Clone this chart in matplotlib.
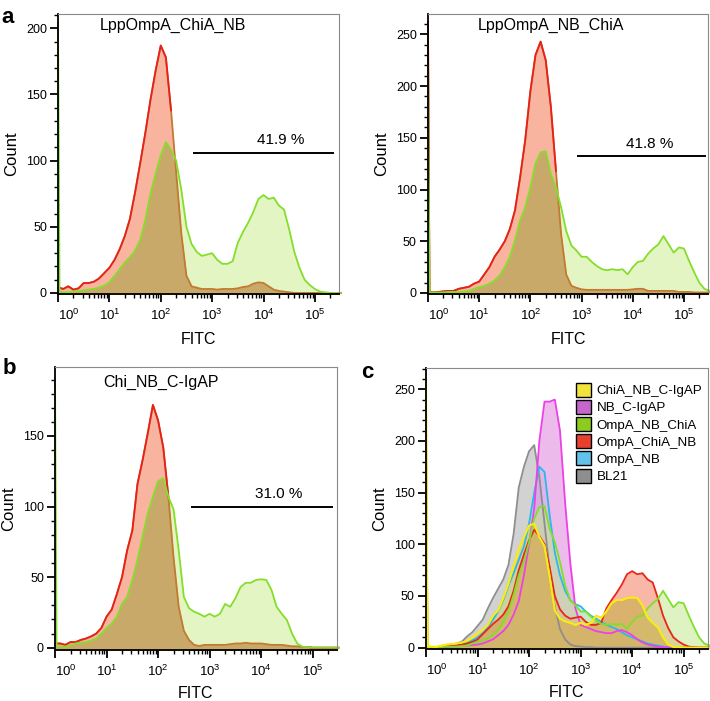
import numpy as np
import matplotlib
matplotlib.use('Agg')
import matplotlib.pyplot as plt
from matplotlib.ticker import FixedLocator, LogLocator, MultipleLocator, NullFormatter
from matplotlib.patches import Patch

plt.rcParams['font.family'] = ['Liberation Sans', 'DejaVu Sans']
plt.rcParams['mathtext.fontset'] = 'custom'
plt.rcParams['mathtext.rm'] = 'Liberation Sans'
plt.rcParams['mathtext.default'] = 'regular'

# posiciones de lectura en decadas (log10 FITC); el primer punto es el pico del borde
DECADAS = [0.0, 0.03] + [round(0.1 * i, 1) for i in range(1, 56)]

# Panel a: LppOmpA_ChiA_NB
A_ROJO = [4, 4,
          3, 5, 2.5, 3.5, 7.5, 7.5, 8.5, 11, 15, 19,
          25, 33, 43, 56, 76, 98, 121, 146, 168, 187,
          178, 138, 91, 45, 13, 5, 4, 3, 3, 3,
          2.5, 3, 3, 3, 3.5, 4.5, 5, 7, 8, 7.5,
          5, 2.5, 1.5, 1, 0.5, 0, 0, 0, 0, 0,
          0, 0, 0, 0, 0]
A_VERDE = [204, 1,
           0.5, 0.5, 1, 1.5, 2, 2.5, 3, 4, 5.5, 8,
           13, 18, 23, 27, 32, 40, 55, 75, 90, 104,
           114, 108, 100, 78, 50, 37, 31, 28, 29, 30,
           25, 22, 22, 24, 38, 46, 53, 61, 71, 74,
           71, 72, 66, 63, 48, 31, 19, 10, 6, 3,
           1, 0.5, 0, 0, 0]

# Panel a (derecha): LppOmpA_NB_ChiA
A2_ROJO = [262, 1,
           0.5, 1, 1.5, 2, 2, 4, 5, 6, 9, 11,
           18, 25, 35, 42, 50, 62, 80, 112, 148, 195,
           230, 243, 225, 180, 118, 57, 18, 7, 5, 3.5,
           3, 3, 3, 3, 3, 3, 3, 3, 3, 3.5,
           4, 4, 2, 2, 2, 2, 2, 2, 1, 1,
           1, 0.5, 0.5, 0.5, 0.5]
A2_VERDE = [220, 0.5,
            0.5, 0.5, 0.5, 1, 1, 1, 1.5, 2, 4, 5.5,
            7, 9, 12, 17, 25, 35, 51, 70, 83, 102,
            125, 136, 137, 115, 102, 83, 60, 46, 41, 35,
            35, 30, 26, 23, 22, 23, 22, 23, 18, 25,
            30, 31, 38, 43, 47, 55, 47, 39, 44, 43,
            31, 20, 10, 4, 2]

# Panel b: Chi_NB_C-IgAP
B_ROJO = [3, 3,
          3, 2, 4, 4, 5.5, 6.5, 8, 10, 14, 22,
          27, 38, 50, 69, 83, 116, 133, 152, 172, 161,
          142, 107, 64, 29, 12, 5.5, 2, 1.2, 2, 2,
          2, 2, 2, 2.5, 3, 3, 3.5, 3, 3, 3,
          2.5, 2, 2, 2, 1.5, 1, 1, 0.5, 0.5, 0,
          0, 0, 0, 0, 0]
B_VERDE = [191, 1,
           1, 0.7, 2, 3, 3.5, 4, 5, 6.5, 10, 14,
           17, 22, 31, 36, 48, 62, 79, 95, 107, 118,
           120, 107, 98, 69, 36, 28, 25.5, 24, 22, 24,
           22, 24, 31, 29, 35, 43, 46, 46, 48, 48.5,
           48, 41, 29, 24, 19.6, 10, 3, 0.7, 0.5, 0,
           0, 0, 0, 0, 0]

# Panel c: superposicion
C_BL21 = [0, 0,
          0, 0.5, 1, 2, 3, 4, 6, 11, 15, 21,
          27, 38, 48, 57, 66, 80, 110, 155, 175, 190,
          196, 165, 120, 75, 40, 18, 8, 3, 1.5, 1,
          0.5, 0.5, 0, 0, 0, 0, 0, 0, 0, 0,
          0, 0, 0, 0, 0, 0, 0, 0, 0, 0,
          0, 0, 0, 0, 0]
C_OMPA_NB = [0, 0,
             0, 0.5, 1, 1.5, 2, 3, 4, 5, 7, 10,
             14, 20, 27, 35, 46, 60, 72, 85, 98, 120,
             150, 175, 170, 128, 92, 70, 55, 46, 42, 40,
             35, 31, 28, 25, 22, 20, 18, 15, 12, 10,
             8, 6, 4, 3, 2, 1, 0.5, 0, 0, 0,
             0, 0, 0, 0, 0]
C_NB_IGAP = [0, 0,
             0, 0, 0.5, 0.5, 1, 1, 1.5, 2, 2.5, 3,
             4, 6, 8, 12, 16, 22, 32, 45, 70, 100,
             135, 200, 238, 238, 240, 210, 140, 82, 38, 22,
             20, 18, 16, 15, 14, 14, 16, 17, 15, 12,
             8, 5, 3, 2, 1, 0.5, 0, 0, 0, 0,
             0, 0, 0, 0, 0]
C_OMPA_CHIA_NB = A_VERDE
C_OMPA_NB_CHIA = A2_VERDE
C_CHIA_IGAP = [264] + B_VERDE[1:]

NOMBRES_C = ['ChiA_NB_C-IgAP', 'NB_C-IgAP', 'OmpA_NB_ChiA', 'OmpA_ChiA_NB', 'OmpA_NB', 'BL21']


def preparar_ejes(ax, ymin, ymax, titulo=None, titulo_pos=None, fitc_y=-0.137):
    ax.set_xscale('log')
    ax.set_xlim(1, 10 ** 5.47)
    ax.set_ylim(ymin, ymax)
    ax.xaxis.set_major_locator(FixedLocator([10.0 ** k for k in range(6)]))
    ax.xaxis.set_minor_locator(LogLocator(base=10, subs=np.arange(2, 10), numticks=20))
    ax.xaxis.set_minor_formatter(NullFormatter())
    ax.set_xticklabels([f'$10^{{{k}}}$' for k in range(6)], fontsize=9.5)
    ax.get_xticklabels()[0].set_horizontalalignment('left')
    ax.yaxis.set_major_locator(MultipleLocator(50))
    ax.yaxis.set_minor_locator(MultipleLocator(10))
    ax.tick_params(axis='both', which='major', direction='out', length=6, width=1.3, labelsize=9, pad=2)
    ax.tick_params(axis='x', which='major', pad=4, labelsize=9.5)
    ax.tick_params(axis='both', which='minor', direction='out', length=3, width=1.0)
    for lado in ['top', 'right']:
        ax.spines[lado].set_color('#8a8a8a')
        ax.spines[lado].set_linewidth(0.8)
    for lado in ['left', 'bottom']:
        ax.spines[lado].set_linewidth(1.3)
    ax.set_ylabel('Count', fontsize=12)
    ax.yaxis.set_label_coords(-0.139, 0.5)
    ax.set_xlabel('FITC', fontsize=11.5)
    ax.xaxis.set_label_coords(0.5, fitc_y)
    if titulo:
        ax.text(titulo_pos[0], titulo_pos[1], titulo, transform=ax.transAxes,
                ha='center', va='center', fontsize=11.5)


def dibujar_par(ax, rojo, verde):
    x = 10.0 ** np.array(DECADAS)
    r = np.array(rojo, dtype=float)
    v = np.array(verde, dtype=float)
    ax.fill_between(x, v, -5, color='#e3f5c3', lw=0)
    ax.fill_between(x, r, -5, color='#f8b49e', lw=0)
    ax.fill_between(x, np.minimum(r, v), -5, color='#c8a96a', lw=0)
    ax.plot(x, r, color='#c27a30', lw=1.3, clip_on=False)
    ax.plot(x, np.ma.masked_where(r < v, r), color='#e8201a', lw=1.3, clip_on=False)
    ax.plot(x, v, color='#84de2a', lw=1.3, clip_on=False)


def marca_porcentaje(ax, x1, x2, y, texto, xt):
    ax.plot([x1, x2], [y, y], color='black', lw=1.4)
    ax.text(xt, y + 0.02 * ax.get_ylim()[1], texto, ha='center', va='bottom', fontsize=11)


fig = plt.figure(figsize=(7.1, 7.01), dpi=100)

# a izquierda
ax1 = fig.add_axes([0.0817, 0.5806, 0.3958, 0.3994])
dibujar_par(ax1, A_ROJO, A_VERDE)
preparar_ejes(ax1, -0.8, 210.8, 'LppOmpA_ChiA_NB', (0.41, 0.96))
marca_porcentaje(ax1, 452, 2.3e5, 106, '41.9 %', 10 ** 4.34)

# a derecha
ax2 = fig.add_axes([0.6028, 0.5806, 0.3944, 0.3994])
dibujar_par(ax2, A2_ROJO, A2_VERDE)
preparar_ejes(ax2, -1, 269.7, 'LppOmpA_NB_ChiA', (0.44, 0.96))
marca_porcentaje(ax2, 840, 2.6e5, 132, '41.8 %', 10 ** 4.33)

# b
ax3 = fig.add_axes([0.0775, 0.0728, 0.397, 0.4037])
dibujar_par(ax3, B_ROJO, B_VERDE)
preparar_ejes(ax3, -1.6, 198.9, 'Chi_NB_C-IgAP', (0.376, 0.947), fitc_y=-0.127)
marca_porcentaje(ax3, 457, 2.4e5, 100, '31.0 %', 10 ** 4.35)

# c
ax4 = fig.add_axes([0.6, 0.0742, 0.397, 0.4009])
x = 10.0 ** np.array(DECADAS)
series_c = [
    (C_BL21, '#8e8e8e', '#c4c4c4', 0.75),
    (C_OMPA_NB, '#2cb8ea', '#8fd4f0', 0.45),
    (C_NB_IGAP, '#ee40e6', '#e49ee4', 0.7),
    (C_OMPA_CHIA_NB, '#e8261c', '#f4876c', 0.6),
    (C_OMPA_NB_CHIA, '#80df2a', '#c4e890', 0.55),
    (C_CHIA_IGAP, '#f8ec10', '#f2cf48', 0.45),
]
for valores, linea, relleno, alfa in series_c:
    ax4.fill_between(x, valores, -5, color=relleno, alpha=alfa, lw=0)
    ax4.plot(x, valores, color=linea, lw=1.3, clip_on=False)

# zona comun de las tres fusiones (tono tostado)
rojo_c = np.array(C_OMPA_CHIA_NB, dtype=float)
verde_c = np.array(C_OMPA_NB_CHIA, dtype=float)
amarillo_c = np.array(C_CHIA_IGAP, dtype=float)
comun = np.minimum(amarillo_c, np.maximum(rojo_c, verde_c))
comun[0] = 0
ax4.fill_between(x, comun, -5, color='#c9a866', alpha=0.6, lw=0)
ax4.plot(x, amarillo_c, color='#f8ec10', lw=1.3, clip_on=False)
preparar_ejes(ax4, -1.3, 270.6, fitc_y=-0.127)

colores_leyenda = ['#f2e43c', '#c466cc', '#8ccc1e', '#e8402e', '#62c2ea', '#8e8e8e']
manijas = [Patch(facecolor=c, edgecolor='black', lw=1.0) for c in colores_leyenda]
ax4.legend(manijas, NOMBRES_C, loc='upper left', bbox_to_anchor=(0.532, 0.948),
           frameon=False, fontsize=9.6, handlelength=1.1, handleheight=1.25,
           labelspacing=0.2, handletextpad=0.45, borderpad=0, borderaxespad=0)

# letras de panel
fig.text(0.002, 0.99, 'a', fontsize=16, fontweight='bold', va='top')
fig.text(0.004, 0.49, 'b', fontsize=16, fontweight='bold', va='top')
fig.text(0.508, 0.483, 'c', fontsize=16, fontweight='bold', va='top')

fig.savefig('out.png', dpi=100)
